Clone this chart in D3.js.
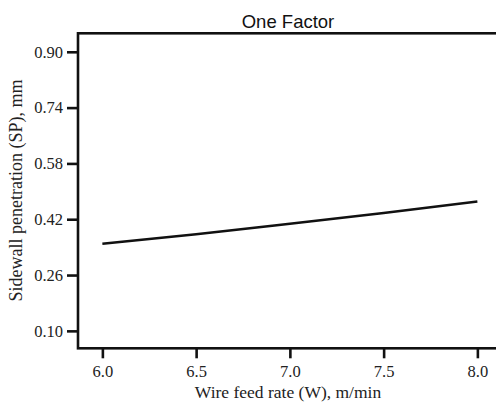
<!DOCTYPE html>
<html>
<head>
<meta charset="utf-8">
<script src="https://cdn.jsdelivr.net/npm/d3@7"></script>
<style>
  body { margin: 0; background: #fff; }
  svg { display: block; }
</style>
</head>
<body>
<div id="chart"></div>
<script>
// data
const wireFeed = [6.0, 6.5, 7.0, 7.5, 8.0];
const sidewallPen = [0.350, 0.377, 0.407, 0.438, 0.471];
const xTicks = [6.0, 6.5, 7.0, 7.5, 8.0];
const yTicks = [0.10, 0.26, 0.42, 0.58, 0.74, 0.90];

const W = 496, H = 403;
const svg = d3.select('#chart').append('svg')
  .attr('width', W)
  .attr('height', H);

const x = d3.scaleLinear().domain([5.87, 8.11]).range([78, 498]);
const y = d3.scaleLinear().domain([0.05, 0.953]).range([348.3, 33.3]);

const serif = '"Liberation Serif", "Times New Roman", serif';

// frame
svg.append('rect')
  .attr('x', x.range()[0])
  .attr('y', y.range()[1])
  .attr('width', x.range()[1] - x.range()[0])
  .attr('height', y.range()[0] - y.range()[1])
  .attr('fill', 'none')
  .attr('stroke', '#111')
  .attr('stroke-width', 2.6);

// axes
const xAxis = svg.append('g')
  .attr('transform', `translate(0,${y.range()[0]})`)
  .call(d3.axisBottom(x).tickValues(xTicks).tickFormat(d3.format('.1f')).tickSize(10).tickPadding(7));

const yAxis = svg.append('g')
  .attr('transform', `translate(${x.range()[0]},0)`)
  .call(d3.axisLeft(y).tickValues(yTicks).tickFormat(d3.format('.2f')).tickSize(11).tickPadding(4));

[xAxis, yAxis].forEach(g => {
  g.select('.domain').remove();
  g.selectAll('.tick line').attr('stroke', '#111').attr('stroke-width', 2.6);
  g.selectAll('.tick text')
    .style('font-family', serif)
    .style('font-size', '16.5px')
    .attr('fill', '#222');
});

// the response line
const line = d3.line()
  .x((d, i) => x(wireFeed[i]))
  .y(d => y(d))
  .curve(d3.curveMonotoneX);

svg.append('path')
  .datum(sidewallPen)
  .attr('d', line)
  .attr('fill', 'none')
  .attr('stroke', '#111')
  .attr('stroke-width', 2.5);

// title
svg.append('text')
  .attr('x', 288)
  .attr('y', 28)
  .attr('text-anchor', 'middle')
  .style('font-family', '"Liberation Sans", Arial, sans-serif')
  .style('font-size', '18.5px')
  .attr('fill', '#111')
  .text('One Factor');

// axis titles
svg.append('text')
  .attr('x', 288)
  .attr('y', 398)
  .attr('text-anchor', 'middle')
  .style('font-family', serif)
  .style('font-size', '17.5px')
  .attr('fill', '#222')
  .text('Wire feed rate (W), m/min');

svg.append('text')
  .attr('transform', 'translate(22,190.5) rotate(-90)')
  .attr('text-anchor', 'middle')
  .style('font-family', serif)
  .style('font-size', '18px')
  .attr('fill', '#222')
  .text('Sidewall penetration (SP), mm');
</script>
</body>
</html>
